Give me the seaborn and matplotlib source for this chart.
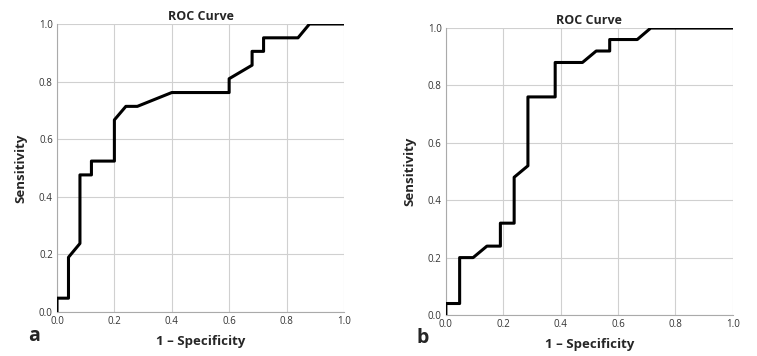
import matplotlib
matplotlib.use("Agg")
import matplotlib.pyplot as plt
import numpy as np
import pandas as pd
import seaborn as sns

# ROC curve a: (1 - specificity, sensitivity) steps
fpr_a = [0.0, 0.0, 0.04, 0.04, 0.08, 0.08, 0.12, 0.12, 0.20, 0.20, 0.24, 0.28,
         0.40, 0.60, 0.60, 0.68, 0.68, 0.72, 0.72, 0.84, 0.88, 1.0]
tpr_a = [0.0, 0.048, 0.048, 0.190, 0.238, 0.476, 0.476, 0.524, 0.524, 0.667, 0.714, 0.714,
         0.762, 0.762, 0.810, 0.857, 0.905, 0.905, 0.952, 0.952, 1.0, 1.0]

# ROC curve b
fpr_b = [0.0, 0.0, 0.048, 0.048, 0.095, 0.143, 0.190, 0.190, 0.238, 0.238, 0.286, 0.286,
         0.381, 0.381, 0.476, 0.524, 0.571, 0.571, 0.667, 0.714, 1.0]
tpr_b = [0.0, 0.04, 0.04, 0.20, 0.20, 0.24, 0.24, 0.32, 0.32, 0.48, 0.52, 0.76,
         0.76, 0.88, 0.88, 0.92, 0.92, 0.96, 0.96, 1.0, 1.0]

ticks = [0.0, 0.2, 0.4, 0.6, 0.8, 1.0]
tick_labels = ["0.0", "0.2", "0.4", "0.6", "0.8", "1.0"]

sns.set_style("white")
plt.rcParams['font.family'] = ['Open Sans', 'DejaVu Sans']

fig = plt.figure(figsize=(7.57, 3.56), dpi=100)
ax_a = fig.add_axes([0.0753, 0.1236, 0.379, 0.809])
ax_b = fig.add_axes([0.589, 0.1152, 0.379, 0.806])


def draw_roc(ax, fpr, tpr):
    df = pd.DataFrame({"fpr": fpr, "tpr": tpr})
    sns.lineplot(data=df, x="fpr", y="tpr", sort=False, estimator=None,
                 color="black", linewidth=2.2, ax=ax, zorder=3)
    ax.set_xlim(0, 1)
    ax.set_ylim(0, 1)
    ax.set_xticks(ticks)
    ax.set_yticks(ticks)
    ax.set_xticklabels(tick_labels, fontsize=7, color="#333333")
    ax.set_yticklabels(tick_labels, fontsize=7, color="#333333")
    ax.tick_params(length=0, pad=3)
    ax.grid(True, color="#d0d0d0", linewidth=0.8)
    ax.set_axisbelow(True)
    for s in ["top", "right"]:
        ax.spines[s].set_visible(False)
    for s in ["left", "bottom"]:
        ax.spines[s].set_color("#aaaaaa")
        ax.spines[s].set_linewidth(0.8)
    ax.set_title("ROC Curve", fontsize=9, fontweight="bold", pad=3)
    ax.set_xlabel("1 – Specificity", fontsize=9.5, fontweight="bold", labelpad=6)
    ax.set_ylabel("Sensitivity", fontsize=9.5, fontweight="bold", labelpad=8)


draw_roc(ax_a, fpr_a, tpr_a)
draw_roc(ax_b, fpr_b, tpr_b)

fig.text(28 / 757, 1 - 336 / 356, "a", fontsize=14, fontweight="bold", va="center")
fig.text(416 / 757, 1 - 338 / 356, "b", fontsize=14, fontweight="bold", va="center")

fig.savefig("out.png", dpi=100)
